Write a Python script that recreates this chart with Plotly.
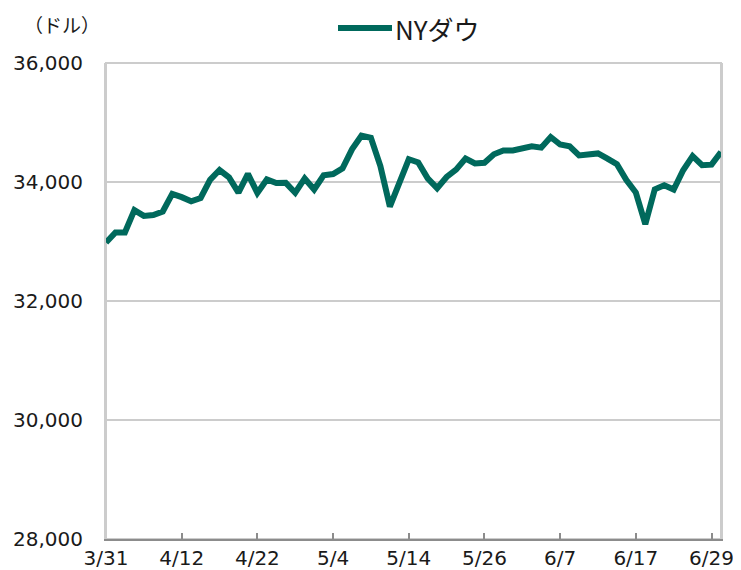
import plotly.graph_objects as go

dates = ["3/31","4/1","4/2","4/5","4/6","4/7","4/8","4/9","4/12","4/13","4/14","4/15","4/16",
         "4/19","4/20","4/21","4/22","4/23","4/26","4/27","4/28","4/29","4/30","5/3","5/4",
         "5/5","5/6","5/7","5/10","5/11","5/12","5/13","5/14","5/17","5/18","5/19","5/20",
         "5/21","5/24","5/25","5/26","5/27","5/28","5/31","6/1","6/2","6/3","6/4","6/7",
         "6/8","6/9","6/10","6/11","6/14","6/15","6/16","6/17","6/18","6/21","6/22","6/23",
         "6/24","6/25","6/28","6/29","6/30"]
dow = [32982,33153,33153,33527,33430,33446,33504,33801,33745,33677,33731,34036,34201,
       34078,33821,34137,33816,34043,33982,33985,33820,34060,33875,34113,34133,
       34230,34549,34778,34743,34269,33588,34021,34382,34328,34061,33896,34084,
       34208,34394,34312,34323,34465,34529,34529,34575,34600,34577,34756,34630,
       34600,34447,34466,34480,34394,34299,34034,33823,33290,33877,33946,33874,
       34197,34434,34283,34292,34503]
tick_labels = ["3/31","4/12","4/22","5/4","5/14","5/26","6/7","6/17","6/29"]
y_ticks = [28000, 30000, 32000, 34000, 36000]
series_name = "NYダウ"
unit_label = "（ドル）"

x_idx = list(range(len(dates)))
tick_pos = [dates.index(t) for t in tick_labels]

tick_font = "DejaVu Sans"
jp_font = "Noto Sans CJK JP"
color = "#00695C"
text_color = "#1a1a1a"

# page body has an 8px margin; figure sized so plot area lands at x 106..721, y 63..539
PW, PH = 615, 476   # plot area size in px
PL, PT = 106, 63    # plot area top-left in page px

def px_x(x):
    return (x - PL) / PW

def px_y(y):
    return 1 + (PT - y) / PH

fig = go.Figure()
fig.add_trace(go.Scatter(x=x_idx, y=dow, mode="lines", name=series_name,
                         line=dict(color=color, width=6), customdata=dates,
                         showlegend=False,
                         hovertemplate="%{customdata}: %{y:,}<extra></extra>"))

fig.update_layout(
    width=733, height=562,
    margin=dict(l=98, r=20, t=55, b=31, autoexpand=False),
    paper_bgcolor="white", plot_bgcolor="white",
    font=dict(family=tick_font, size=20, color=text_color),
    xaxis=dict(range=[0, len(dates) - 1], tickvals=tick_pos, ticktext=tick_labels,
               showgrid=False, ticks="inside", ticklen=6, tickcolor="#8c8c8c",
               tickwidth=1.5, showline=True, linecolor="#8c8c8c", linewidth=2,
               zeroline=False, tickfont=dict(size=20, family=tick_font),
               ticklabelstandoff=0, automargin=False),
    yaxis=dict(range=[28000, 36000], tickvals=y_ticks, tickformat=",",
               showgrid=True, gridcolor="#cccccc", gridwidth=2,
               showline=True, linecolor="#cccccc", linewidth=2, mirror=True,
               ticks="", zeroline=False, tickfont=dict(size=20, family=tick_font),
               ticklabelstandoff=17, automargin=False),
    annotations=[
        dict(text=unit_label, x=px_x(62), xref="paper", xanchor="center",
             y=px_y(24), yref="paper", yanchor="middle", showarrow=False,
             font=dict(size=19, family=jp_font, color=text_color)),
        dict(text=series_name, x=px_x(393), xref="paper", xanchor="left",
             y=px_y(28), yref="paper", yanchor="middle", showarrow=False,
             font=dict(size=26, family=jp_font, color=text_color)),
    ],
)
# legend key line
fig.add_shape(type="line", xref="paper", yref="paper",
              x0=px_x(338), x1=px_x(392), y0=px_y(28), y1=px_y(28),
              line=dict(color=color, width=6))
# top/right border
fig.add_shape(type="rect", xref="paper", yref="paper", x0=0, x1=1, y0=0, y1=1,
              line=dict(color="#cccccc", width=2), layer="below")

fig.write_html("out.html")
